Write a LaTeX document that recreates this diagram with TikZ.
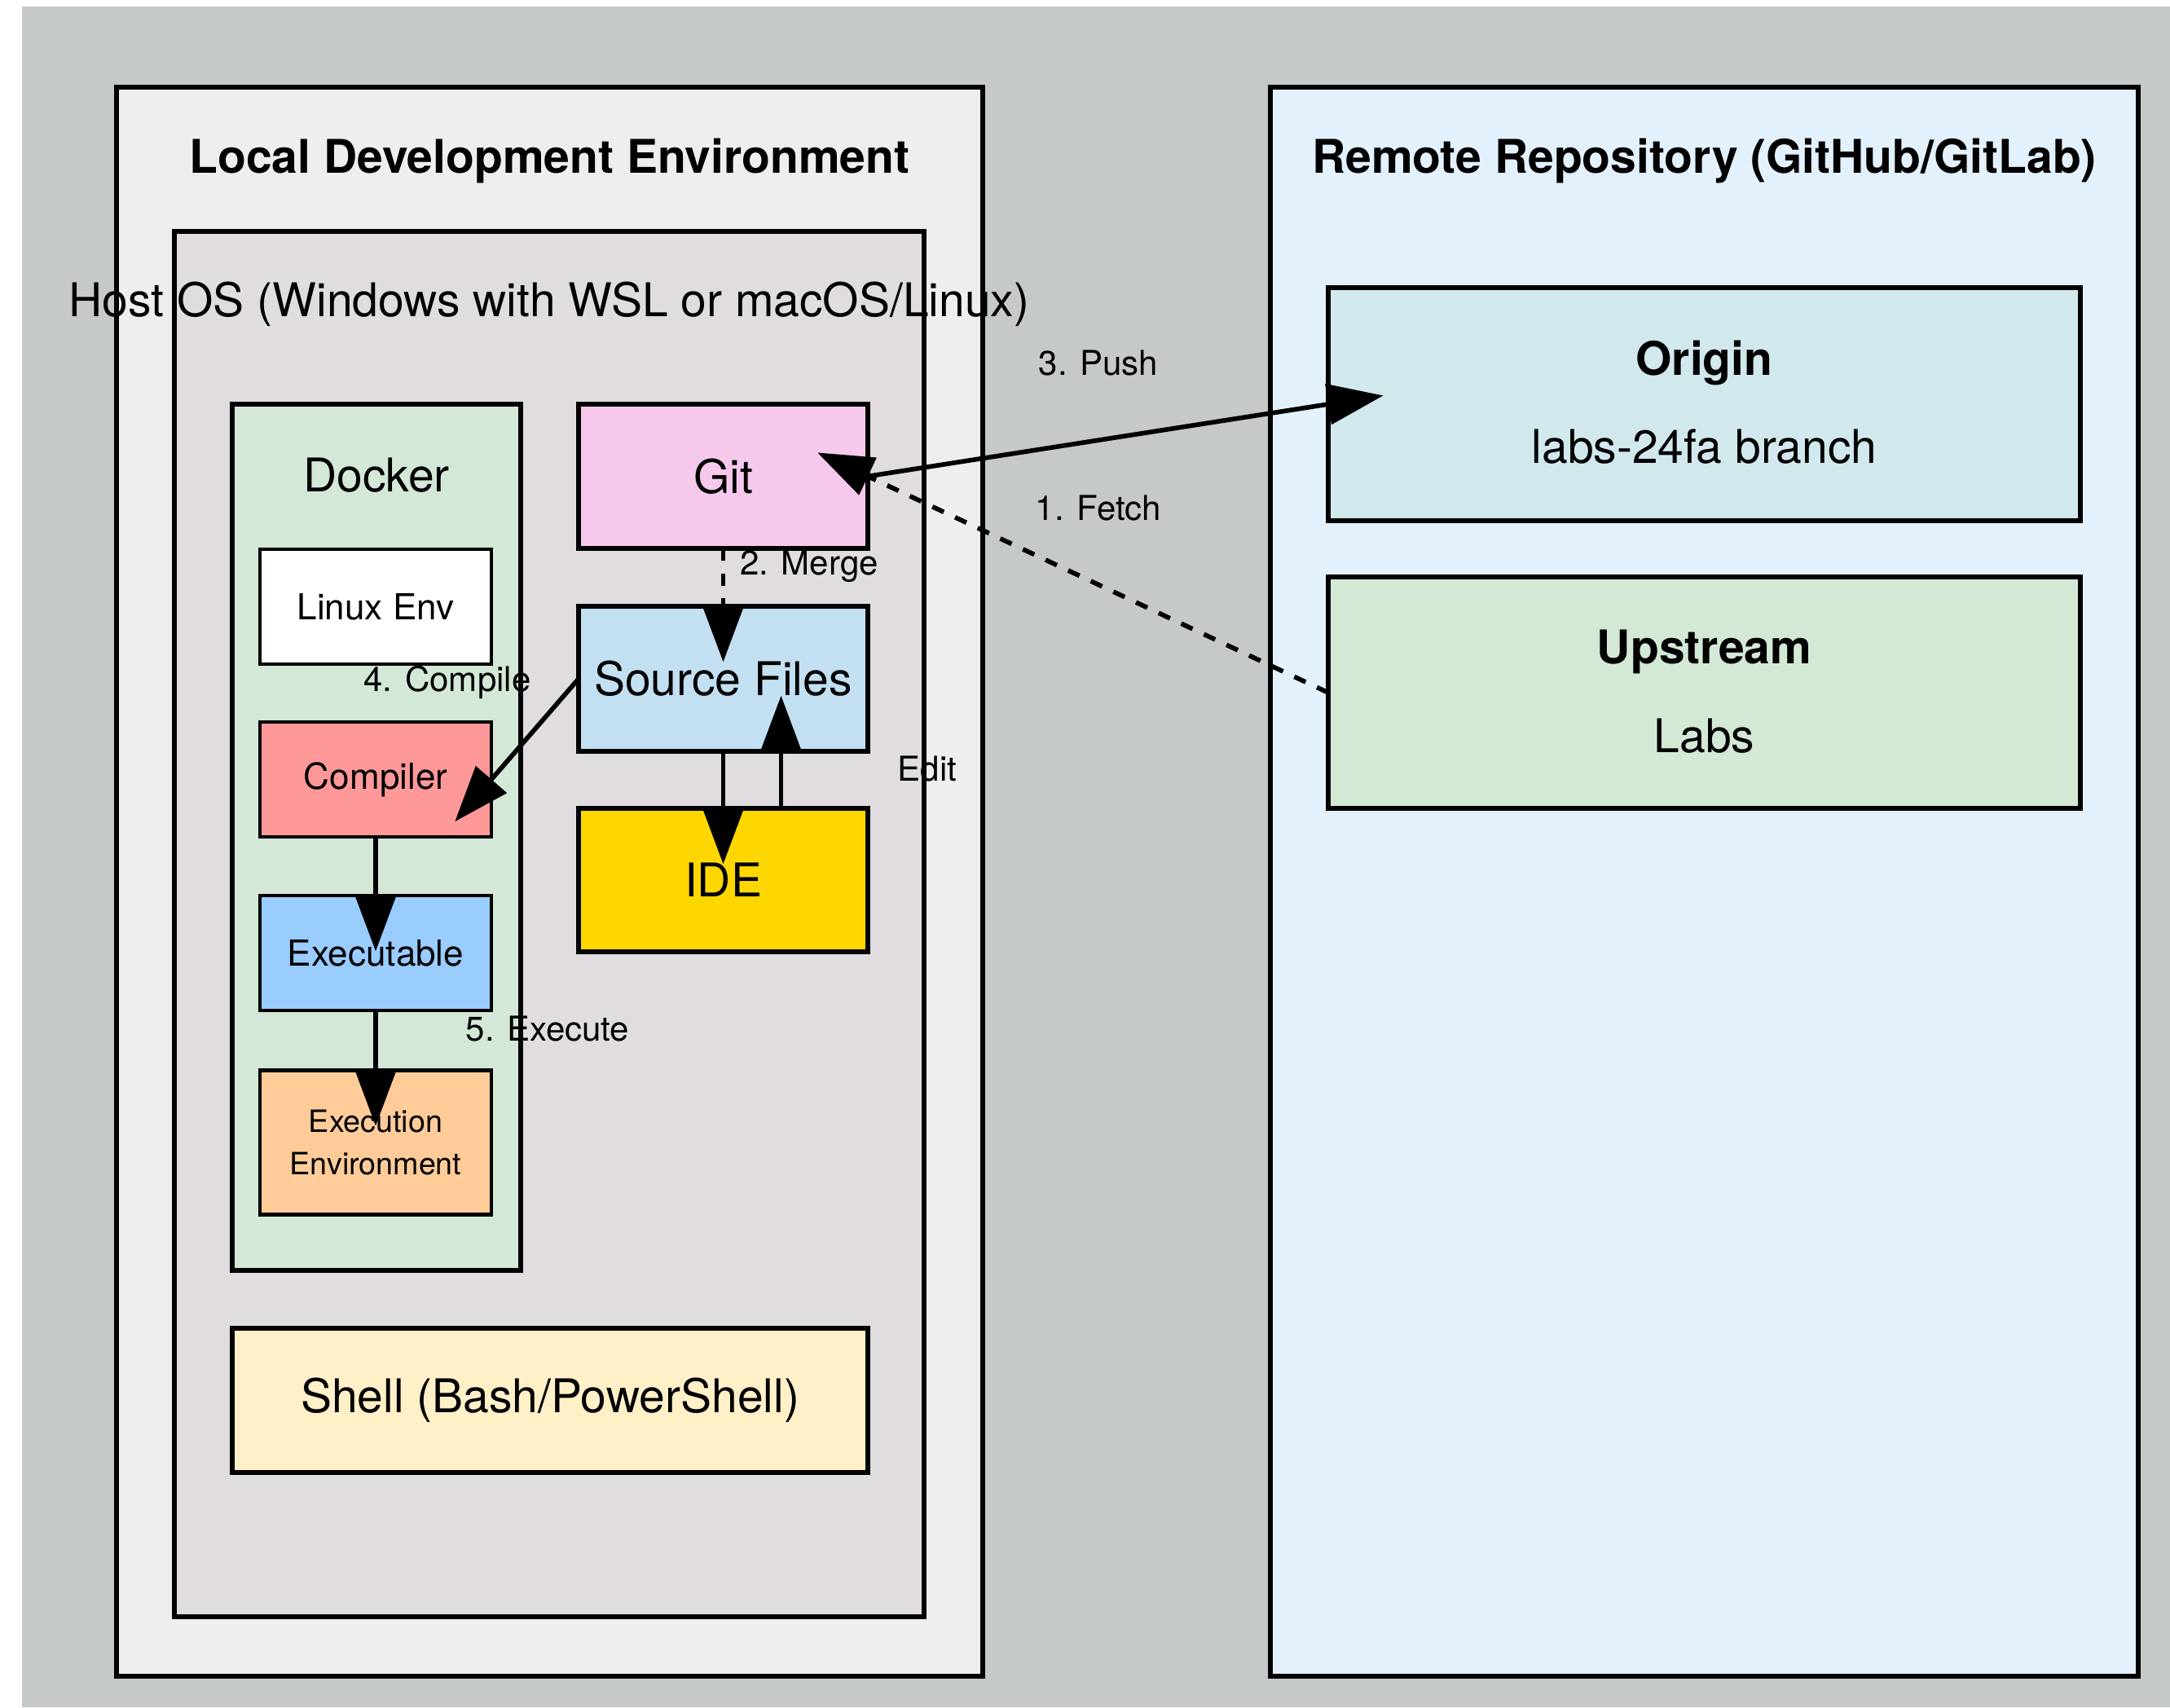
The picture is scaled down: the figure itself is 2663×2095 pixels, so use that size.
\documentclass[tikz,border=0pt]{standalone}
\usepackage{fontspec}
\setmainfont{TeX Gyre Heros}
\usetikzlibrary{arrows.meta}

\definecolor{bggray}{HTML}{C5C9CA}
\definecolor{localfill}{HTML}{EEEEEE}
\definecolor{hostfill}{HTML}{E0DCE0}
\definecolor{dockerfill}{HTML}{D3E8D6}
\definecolor{compfill}{HTML}{FF9999}
\definecolor{exefill}{HTML}{99CCFF}
\definecolor{envfill}{HTML}{FFCC99}
\definecolor{gitfill}{HTML}{F5C8EC}
\definecolor{srcfill}{HTML}{C2E0F1}
\definecolor{idefill}{HTML}{FFD700}
\definecolor{shellfill}{HTML}{FFF0C8}
\definecolor{remotefill}{HTML}{E3F1FD}
\definecolor{originfill}{HTML}{D1E8EC}
\definecolor{upfill}{HTML}{D3E8D5}

\tikzset{
  pbox/.style 2 args={draw=black, line width=2pt, rectangle, inner sep=0pt, outer sep=0pt,
    minimum width={#1*0.3pt}, minimum height={#2*0.3pt}},
  thinbox/.style={line width=1.4pt},
  bigtext/.style={font=\fontsize{17.1}{20}\selectfont},
  bigbold/.style={font=\fontsize{17.1}{20}\selectfont\bfseries},
  midtext/.style={font=\fontsize{13.2}{16}\selectfont},
  smalltext/.style={font=\fontsize{11.3}{16.5}\selectfont, align=center},
  edgelabel/.style={font=\fontsize{12.6}{15}\selectfont, inner sep=0pt},
  flow/.style={line width=1.7pt, -{Triangle[length=20.5pt,width=14.8pt]}, shorten >=-20.5pt},
  flowdash/.style={flow, dash pattern=on 4.6pt off 4.6pt},
}

\begin{document}
\begin{tikzpicture}[x=0.3pt, y=-0.3pt]
  % canvas and backdrop
  \fill[white] (0,0) rectangle (2663,2095);
  \useasboundingbox (0,0) rectangle (2663,2095);
  \fill[bggray] (27,8) rectangle (2663,2095);

  % local side
  \node[pbox={1063}{1950}, fill=localfill] (local) at (674.5,1082) {};
  \node[bigbold] (localtitle) at (674.5,197) {Local Development Environment};
  \node[pbox={920}{1700}, fill=hostfill] (host) at (674,1134) {};
  \node[pbox={354}{1063}, fill=dockerfill] (docker) at (462,1027.5) {};
  \node[bigtext] (hosttitle) at (674,373) {Host OS (Windows with WSL or macOS/Linux)};
  \node[bigtext] (dockertitle) at (462,583) {Docker};

  \node[pbox={284}{141}, thinbox, fill=white, midtext] (linux) at (461,744.5) {Linux Env};
  \node[pbox={284}{141}, thinbox, fill=compfill, midtext] (compiler) at (461,956.5) {Compiler};
  \node[pbox={284}{141}, thinbox, fill=exefill, midtext] (exe) at (461,1169.5) {Executable};
  \node[pbox={284}{177}, thinbox, fill=envfill, smalltext] (env) at (461,1402) {Execution\\[-1pt]Environment};

  \node[pbox={355}{177}, fill=gitfill, bigtext] (git) at (887.5,584.5) {Git};
  \node[pbox={355}{178}, fill=srcfill, bigtext] (src) at (887.5,833) {Source Files};
  \node[pbox={355}{176}, fill=idefill, bigtext] (ide) at (887.5,1080) {IDE};
  \node[pbox={780}{177}, fill=shellfill, bigtext] (shell) at (675,1718.5) {Shell (Bash/PowerShell)};

  % remote side
  \node[pbox={1065}{1950}, fill=remotefill] (remote) at (2091.5,1082) {};
  \node[bigbold] (remotetitle) at (2091.5,197) {Remote Repository (GitHub/GitLab)};
  \node[pbox={923}{286}, fill=originfill] (origin) at (2091.5,496) {};
  \node[bigbold] (origintitle) at (2091.5,445) {Origin};
  \node[bigtext] (originsub) at (2091.5,548) {labs-24fa branch};
  \node[pbox={923}{284}, fill=upfill] (upstream) at (2091.5,850) {};
  \node[bigbold] (uptitle) at (2091.5,800) {Upstream};
  \node[bigtext] (upsub) at (2091.5,903) {Labs};

  % workflow connectors
  \draw[flowdash] (upstream.west) -- (git.east);
  \draw[flowdash] (git.south) -- (src.north);
  \draw[flow] (git.east) -- (origin.west);
  \draw[flow] (src.south) -- (ide.north);
  \draw[flow] ([xshift={71*0.3pt}]ide.north) -- ([xshift={71*0.3pt}]src.south);
  \draw[flow] (src.west) -- (compiler.east);
  \draw[flow] (compiler.south) -- (exe.north);
  \draw[flow] (exe.south) -- (env.north);

  % connector labels
  \node[edgelabel] (lpush) at (1348,445) {3. Push};
  \node[edgelabel] (lfetch) at (1348,623) {1. Fetch};
  \node[edgelabel] (lmerge) at (993,695) {2. Merge};
  \node[edgelabel] (lcompile) at (549,837) {4. Compile};
  \node[edgelabel] (ledit) at (1138,943) {Edit};
  \node[edgelabel] (lexec) at (672,1262) {5. Execute};
\end{tikzpicture}
\end{document}
